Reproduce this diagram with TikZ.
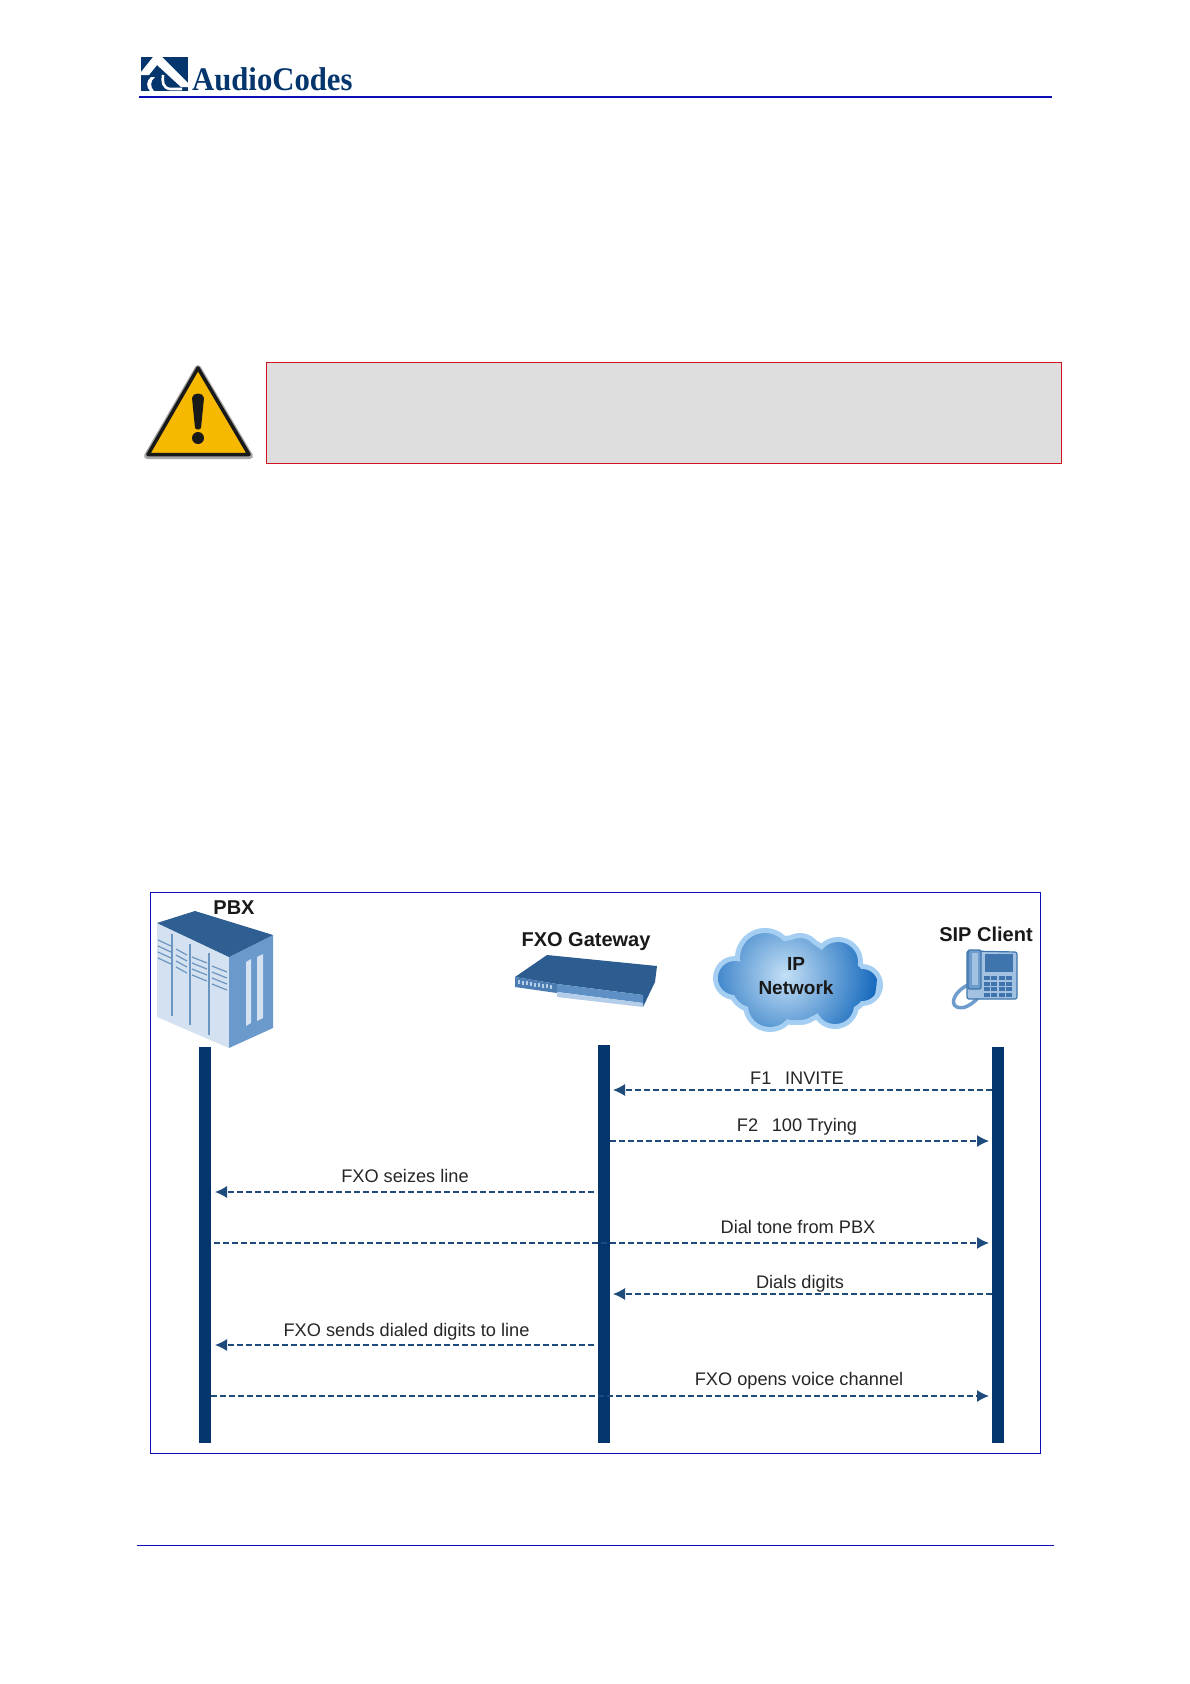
\documentclass[tikz,border=0pt]{standalone}
\usepackage{fontspec}
\setmainfont{Liberation Sans}
\newfontfamily\logofont{Liberation Serif}
\usetikzlibrary{arrows.meta,shadings}
\definecolor{navy}{HTML}{04356C}
\definecolor{rule}{HTML}{0E0EB8}
\definecolor{msgc}{HTML}{1E4A7C}
\definecolor{pbxtop}{HTML}{2F5F92}
\definecolor{pbxfront}{HTML}{D3E1F0}
\definecolor{pbxside}{HTML}{6A9ACB}
\definecolor{pbxline}{HTML}{6C95C0}
\definecolor{gwtop}{HTML}{2C5C90}
\definecolor{gwfront}{HTML}{4B7DB2}
\definecolor{gwmid}{HTML}{5E90C6}
\definecolor{gwlight}{HTML}{B4CDE8}
\definecolor{halo}{HTML}{A4CFF2}
\definecolor{cloudin}{HTML}{C4E0F6}
\definecolor{cloudout}{HTML}{1468BC}
\definecolor{phonec}{HTML}{A3C2E2}
\definecolor{phonem}{HTML}{6E9DCD}
\definecolor{phoned}{HTML}{3F75AC}
\definecolor{warn}{HTML}{F7B900}
\definecolor{notebg}{HTML}{DEDEDE}
\definecolor{notered}{HTML}{D0101C}
\tikzset{
  x=1pt,y=-1pt,
  lifeline/.style={fill=navy,draw=none,minimum width=12pt,inner sep=0pt,outer sep=0pt,anchor=north},
  msg/.style={draw=msgc,line width=1.3pt,dash pattern=on 6pt off 3pt,-{Latex[length=12pt,width=12pt]}},
  msglabel/.style={font=\fontsize{18.2}{20}\selectfont,text=black!85,inner sep=0pt},
  actor/.style={font=\bfseries\fontsize{20}{24}\selectfont,text=black!90,inner sep=0pt,align=center},
  hrule/.style={draw=rule,line width=1.6pt},
}
\begin{document}
\begin{tikzpicture}
\useasboundingbox (0,0) rectangle (1190,1684);
\fill[white] (0,0) rectangle (1190,1684);

% header
\coordinate (ruleAl) at (139,97); \coordinate (ruleAr) at (1052,97);
\draw[hrule] (ruleAl) -- (ruleAr);
\coordinate (ruleBl) at (137,1545.5); \coordinate (ruleBr) at (1054,1545.5);
\draw[draw=rule,line width=1pt] (ruleBl) -- (ruleBr);
% logo
\fill[navy] (141,57) rectangle (188,91);
\fill[white] (141,72) -- (153,57) -- (162,57) -- (188,83) -- (188,87) -- (181,87) -- (157,65) -- (149,75) -- (141,75) -- cycle;
\fill[white] (151,77) .. controls (146,81) and (146,87) .. (150,91) -- (154,91) .. controls (150,87) and (150,81) .. (155,77) -- cycle;
\draw[white,line width=2.6pt] (163,75) .. controls (162,82) and (163,88) .. (170,89) -- (182,89);
\node[anchor=base west,inner sep=0pt,text=navy] (logo) at (192,90)
  {\scalebox{0.93}[1]{\logofont\bfseries\fontsize{33}{40}\selectfont AudioCodes}};

% warning
\fill[black!35,line join=round,line width=6pt,draw=black!35] (198,368) -- (147,456) -- (250,456) -- cycle;
\fill[warn,draw=black!90,line width=3.5pt,line join=round] (198,368) -- (148,454.5) -- (249,454.5) -- cycle;
\fill[black!90] (192,398) .. controls (192,392) and (204,392) .. (204,398) -- (201,428) .. controls (200,430) and (196,430) .. (195,428) -- cycle;
\fill[black!90] (198,438) circle (6pt);
\node[draw=notered,fill=notebg,line width=1pt,minimum width=795pt,minimum height=100.5pt,anchor=north west,inner sep=0pt] (note) at (266,362) {};

% frame
\node[draw=rule,line width=1.2pt,minimum width=890pt,minimum height=561pt,anchor=north west,inner sep=0pt] (frame) at (150,892) {};

% PBX
\fill[pbxfront] (157,923) -- (229,957) -- (229,1048) -- (157,1017) -- cycle;
\fill[pbxside] (229,957) -- (273,935) -- (273,1028) -- (229,1048) -- cycle;
\fill[pbxtop] (157,923) -- (195,911) -- (273,935) -- (229,957) -- cycle;
\foreach \x/\a/\b in {172/934/1016,190/944/1025,209/953/1035}
  \draw[pbxline,line width=2pt] (\x,\a) -- (\x,\b);
\foreach \x/\y/\w in {158/940/13,176/949/11,192/957/15,212/966/15}
  \foreach \d in {0,6,12,18}
    \draw[pbxline,line width=1.2pt] (\x,\y+\d) -- (\x+\w,\y+\d+6);
\fill[pbxfront] (246,962) -- (251,959) -- (251,1023) -- (246,1026) -- cycle;
\fill[pbxfront] (257,957) -- (263,954) -- (263,1018) -- (257,1021) -- cycle;
\node[actor] (pbxlabel) at (234,908) {PBX};

% gateway
\fill[gwtop] (515,977) -- (547,955) -- (657,966) -- (655,982) -- (643,1007) -- (643,995) -- (557,984) -- cycle;
\fill[gwfront] (515,977) -- (557,984) -- (557,993) -- (515,987) -- cycle;
\fill[gwmid] (557,984) -- (643,995) -- (643,1003) -- (557,992) -- cycle;
\fill[gwlight] (557,992) -- (643,1003) -- (643,1007) -- (557,997) -- cycle;
\foreach \x in {518,522,...,552}
  \fill[gwlight] (\x,{979.5+(\x-515)*0.16}) rectangle ++(2,4);
\node[actor] (gwlabel) at (586,942) {FXO Gateway};

% cloud
\fill[halo] (735,978) circle (22pt) (765,958) circle (30pt) (800,955) circle (22pt) (838,962) circle (25pt)
  (862,985) circle (21pt) (835,1005) circle (24pt) (770,1005) circle (27pt) (800,1000) circle (25pt) (795,980) circle (45pt)
  (755,985) circle (28pt) (842,985) circle (30pt);
\begin{scope}
\clip (735,978) circle (17pt) (765,958) circle (25pt) (800,955) circle (17pt) (838,962) circle (20pt)
  (862,985) circle (16pt) (835,1005) circle (19pt) (770,1005) circle (22pt) (800,1000) circle (20pt) (795,980) circle (40pt)
  (755,985) circle (23pt) (842,985) circle (25pt);
\shade[inner color=cloudin,outer color=cloudout] (785,975) circle (92pt);
\end{scope}
\node[actor,font=\bfseries\fontsize{19}{24}\selectfont] (cloudlabel) at (796,976.5) {IP\\Network};

% phone
\node[actor] (siplabel) at (986,934) {SIP Client};
\draw[phonem,line width=3.5pt] (970,984) .. controls (955,990) and (949,1004) .. (957,1007) .. controls (964,1010) and (972,1004) .. (978,998);
\fill[phonec,draw=phoned,line width=1.2pt,rounded corners=2pt] (967,951) -- (1017,952) -- (1017,999) -- (967,999) -- cycle;
\fill[phoned] (985,953.5) rectangle (1013,972);
\foreach \r in {0,1,2,3} \foreach \c in {0,1,2,3}
  \fill[phoned] (983.5+\c*7.5,976+\r*5.5) rectangle ++(6,4);
\fill[phonem,draw=phoned,line width=1.4pt,rounded corners=2pt] (968,950) -- (981,950) -- (981,989) -- (968,989) -- cycle;
\fill[phonec] (972,953) rectangle (978,985);

% lifelines
\node[lifeline,minimum height=396pt] (pbx) at (205,1047) {};
\node[lifeline,minimum height=398pt] (gw) at (604,1045) {};
\node[lifeline,minimum height=396pt] (sip) at (998,1047) {};

% messages
\foreach \n/\y in {m1/1090,m2/1141,m3/1192,m4/1243,m5/1294,m6/1345,m7/1396}
  \coordinate (\n) at (0,\y);
\draw[msg] (sip.west |- m1) -- ([xshift=3pt]gw.east |- m1);
\draw[msg] (gw.east |- m2) -- ([xshift=-3pt]sip.west |- m2);
\draw[msg] ([xshift=-4pt]gw.west |- m3) -- ([xshift=4pt]pbx.east |- m3);
\draw[msg] ([xshift=3pt]pbx.east |- m4) -- ([xshift=-3pt]sip.west |- m4);
\draw[msg] (sip.west |- m5) -- ([xshift=3pt]gw.east |- m5);
\draw[msg] ([xshift=-4pt]gw.west |- m6) -- ([xshift=4pt]pbx.east |- m6);
\draw[msg] (pbx.east |- m7) -- ([xshift=-3pt]sip.west |- m7);

\node[msglabel] (l1) at (797,1078.5) {F1\hspace{0.75em}INVITE};
\node[msglabel] (l2) at (797,1126.5) {F2\hspace{0.75em}100 Trying};
\node[msglabel] (l3) at (405,1176) {FXO seizes line};
\node[msglabel] (l4) at (798,1227) {Dial tone from PBX};
\node[msglabel] (l5) at (800,1284) {Dials digits};
\node[msglabel] (l6) at (406.5,1332) {FXO sends dialed digits to line};
\node[msglabel] (l7) at (799,1380.5) {FXO opens voice channel};
\end{tikzpicture}
\end{document}
